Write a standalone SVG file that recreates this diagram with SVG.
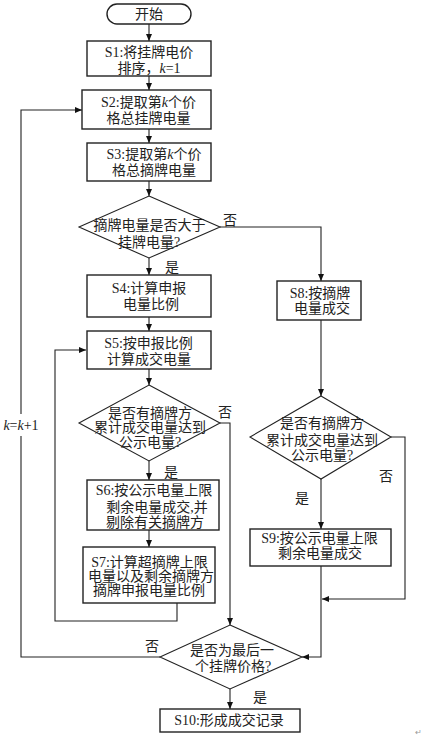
<svg xmlns="http://www.w3.org/2000/svg" width="422" height="737" viewBox="0 0 422 737">
<defs>
<marker id="ah" markerWidth="8" markerHeight="8" refX="7" refY="4" orient="auto" markerUnits="userSpaceOnUse">
<path d="M0,1 L7,4 L0,7 Z" fill="#111"/>
</marker>
<style>
.n{fill:#fff;stroke:#222;stroke-width:1.4}
.d{fill:#fff;stroke:#222;stroke-width:1.1}
.c{fill:none;stroke:#222;stroke-width:1.1}
.a{fill:none;stroke:#222;stroke-width:1.1;marker-end:url(#ah)}
text{font-family:"Liberation Serif","Noto Sans CJK SC",serif;font-size:14px;fill:#222;text-anchor:middle}
.l{font-size:14px}
</style>
</defs>
<rect width="422" height="737" fill="#fff"/>
<g id="connectors">
<path class="a" d="M149,24 V41"/>
<path class="a" d="M149,76 V90"/>
<path class="a" d="M149,129 V143"/>
<path class="a" d="M149,181 V196"/>
<path class="a" d="M149,258 V275"/>
<path class="a" d="M220,227 H321 V281"/>
<path class="a" d="M149,317 V331"/>
<path class="a" d="M149,369 V385"/>
<path class="a" d="M149,461 V480"/>
<path class="a" d="M149,530 V547"/>
<path class="a" d="M177,603 V621 H55 V350 H86"/>
<path class="a" d="M220,423 H230 V625"/>
<path class="a" d="M321,320 V396"/>
<path class="a" d="M321,479 V529"/>
<path class="a" d="M391,437 H405 V599 H322"/>
<path class="a" d="M321,566 V657 H302"/>
<path class="c" d="M160,657 H21 V436"/>
<path class="a" d="M21,414 V110 H82"/>
<path class="a" d="M230,689 V709"/>
</g>
<g id="labels">
<text x="230" y="225">否</text>
<text x="172" y="272">是</text>
<text x="225" y="417">否</text>
<text x="171" y="477">是</text>
<text x="386" y="481">否</text>
<text x="302" y="503">是</text>
<text x="152" y="651">否</text>
<text x="260" y="702">是</text>
<text x="21" y="430"><tspan font-style="italic">k</tspan>=<tspan font-style="italic">k</tspan>+1</text>
</g>
<g id="start">
<rect class="n" x="107" y="4" width="84" height="20" rx="10" ry="10"/>
<text x="149" y="19">开始</text>
</g>
<g id="S1">
<rect class="n" x="87" y="41" width="124" height="35"/>
<text x="149" y="57">S1:将挂牌电价</text>
<text x="149" y="73">排序，<tspan font-style="italic">k</tspan>=1</text>
</g>
<g id="S2">
<rect class="n" x="82" y="90" width="129" height="39"/>
<text x="148.5" y="107">S2:提取第<tspan font-style="italic">k</tspan>个价</text>
<text x="148.5" y="123">格总挂牌电量</text>
</g>
<g id="S3">
<rect class="n" x="87" y="143" width="124" height="38"/>
<text x="154" y="159">S3:提取第<tspan font-style="italic">k</tspan>个价</text>
<text x="154" y="175">格总摘牌电量</text>
</g>
<g id="D1">
<polygon class="d" points="149,196 220,227 149,258 79,227"/>
<text x="149.5" y="230">摘牌电量是否大于</text>
<text x="149" y="247">挂牌电量?</text>
</g>
<g id="S4">
<rect class="n" x="87" y="275" width="124" height="42"/>
<text x="149" y="293">S4:计算申报</text>
<text x="151" y="309">电量比例</text>
</g>
<g id="S8">
<rect class="n" x="277" y="281" width="84" height="39"/>
<text x="320" y="298">S8:按摘牌</text>
<text x="322" y="313">电量成交</text>
</g>
<g id="S5">
<rect class="n" x="87" y="331" width="124" height="38"/>
<text x="148.5" y="348">S5:按申报比例</text>
<text x="149" y="364">计算成交电量</text>
</g>
<g id="D2">
<polygon class="d" points="149,385 220,423 149,461 79,423"/>
<text x="150" y="418">是否有摘牌方</text>
<text x="150" y="432">累计成交电量达到</text>
<text x="150" y="447">公示电量?</text>
</g>
<g id="S6">
<rect class="n" x="87" y="480" width="132" height="50"/>
<text x="154" y="495">S6:按公示电量上限</text>
<text x="157" y="512">剩余电量成交,并</text>
<text x="155" y="527">剔除有关摘牌方</text>
</g>
<g id="S7">
<rect class="n" x="83" y="547" width="132" height="56"/>
<text x="149.5" y="567">S7:计算超摘牌上限</text>
<text x="151" y="581">电量以及剩余摘牌方</text>
<text x="149" y="595">摘牌申报电量比例</text>
</g>
<g id="D3">
<polygon class="d" points="321,396 391,437 321,479 250,437"/>
<text x="322" y="428">是否有摘牌方</text>
<text x="322" y="445">累计成交电量达到</text>
<text x="322" y="460">公示电量?</text>
</g>
<g id="S9">
<rect class="n" x="250" y="529" width="141" height="37"/>
<text x="319.5" y="543">S9:按公示电量上限</text>
<text x="320" y="558">剩余电量成交</text>
</g>
<g id="D4">
<polygon class="d" points="230,625 302,657 230,689 160,657"/>
<text x="232" y="655">是否为最后一</text>
<text x="233" y="671">个挂牌价格?</text>
</g>
<g id="S10">
<rect class="n" x="160" y="709" width="140" height="23"/>
<text x="229" y="725">S10:形成成交记录</text>
</g>
<text x="418" y="735" style="font-size:8px;fill:#999">↵</text>
</svg>
